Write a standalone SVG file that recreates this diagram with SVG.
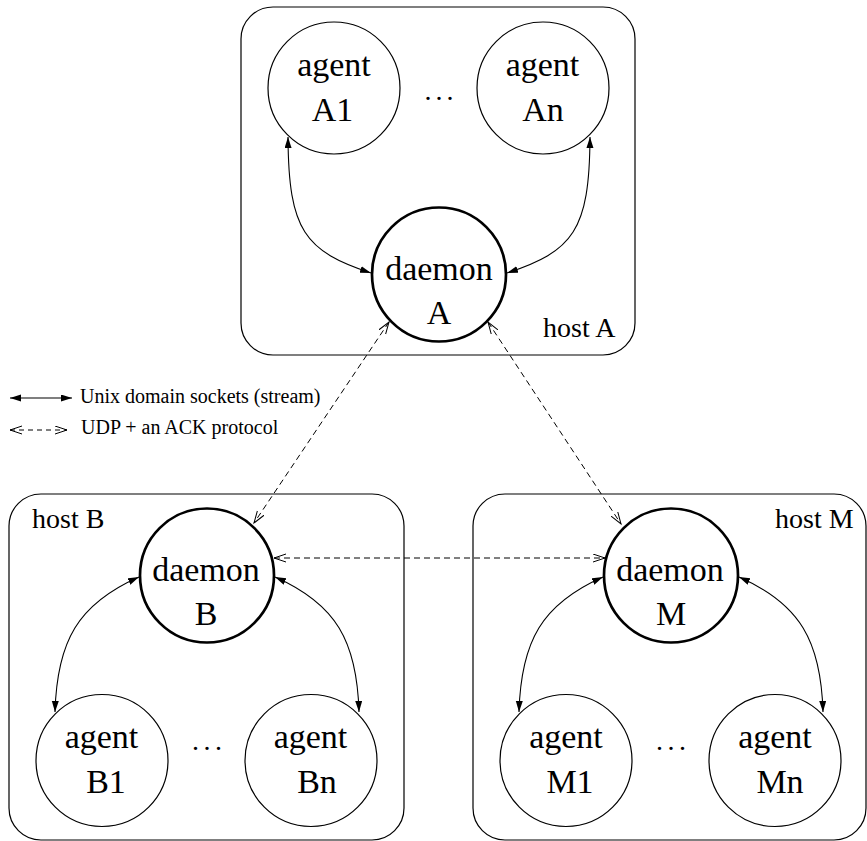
<svg xmlns="http://www.w3.org/2000/svg" width="867" height="841" viewBox="0 0 867 841">
<defs>
<style>
.host{fill:none;stroke:#000;stroke-width:1.2}
.agent{fill:#fff;stroke:#000;stroke-width:1.2}
.daemon{fill:#fff;stroke:#000;stroke-width:2.7}
.lbl{font-family:"Liberation Serif","Times New Roman",serif;font-size:34px;fill:#000;text-anchor:middle}
.hl{font-family:"Liberation Serif","Times New Roman",serif;font-size:28px;fill:#000}
.dots{font-family:"Liberation Serif","Times New Roman",serif;font-size:28px;fill:#000}
.leg{font-family:"Liberation Serif","Times New Roman",serif;font-size:20px;fill:#000}
.uds{fill:none;stroke:#000;stroke-width:1.1;marker-start:url(#fa);marker-end:url(#fa)}
.udp{fill:none;stroke:#000;stroke-width:1;stroke-dasharray:6 4;marker-start:url(#oa);marker-end:url(#oa)}
</style>
<marker id="fa" markerUnits="userSpaceOnUse" markerWidth="12" markerHeight="8" refX="11" refY="3.5" orient="auto-start-reverse" viewBox="0 0 12 8">
<path d="M0,0 L11,3.5 L0,7 z" fill="#000"/>
</marker>
<marker id="oa" markerUnits="userSpaceOnUse" markerWidth="14" markerHeight="10" refX="12" refY="4.5" orient="auto-start-reverse" viewBox="0 0 14 10">
<path d="M0,0.5 L12,4.5 L0,8.5" fill="none" stroke="#000" stroke-width="1"/>
</marker>
</defs>

<g id="hostA">
<rect class="host" x="241" y="7" width="394" height="348" rx="32" ry="32"/>
<text class="hl" x="543" y="337">host A</text>
<text class="dots" x="424.5 435.5 446.5" y="100">...</text>
</g>
<g id="hostB">
<rect class="host" x="9" y="494" width="395" height="346" rx="32" ry="32"/>
<text class="hl" x="32" y="528">host B</text>
<text class="dots" x="192 203.5 215" y="750">...</text>
</g>
<g id="hostM">
<rect class="host" x="473" y="494" width="393" height="346" rx="32" ry="32"/>
<text class="hl" x="775" y="528">host M</text>
<text class="dots" x="656 667.5 679" y="750">...</text>
</g>

<g id="connectors">
<path class="uds" d="M288,137 C288.5,231 305,251 371,273"/>
<path class="uds" d="M590,137 C589.5,231 573,251 507,273"/>
<path class="uds" d="M55,712 C57,641 78,604 139,577"/>
<path class="uds" d="M359,712 C357,641 336,604 275,577"/>
<path class="uds" d="M519,712 C521,641 542,604 603,577"/>
<path class="uds" d="M823,712 C821,641 800,604 739,577"/>
<path class="udp" d="M389,322 L254,523"/>
<path class="udp" d="M488,322 L621,524"/>
<path class="udp" d="M274,558 L605,558"/>
</g>

<g id="agentA1">
<circle class="agent" cx="334" cy="88" r="66"/>
<text class="lbl" x="334" y="76">agent</text>
<text class="lbl" x="332.5" y="121">A1</text>
</g>
<g id="agentAn">
<circle class="agent" cx="543" cy="88" r="66"/>
<text class="lbl" x="542.5" y="76">agent</text>
<text class="lbl" x="543" y="121">An</text>
</g>
<g id="daemonA">
<circle class="daemon" cx="439" cy="274.5" r="67"/>
<text class="lbl" x="439" y="280">daemon</text>
<text class="lbl" x="439" y="324">A</text>
</g>

<g id="daemonB">
<circle class="daemon" cx="207" cy="575.5" r="67"/>
<text class="lbl" x="206" y="581">daemon</text>
<text class="lbl" x="206" y="625">B</text>
</g>
<g id="agentB1">
<circle class="agent" cx="102" cy="760.5" r="66"/>
<text class="lbl" x="101.5" y="748">agent</text>
<text class="lbl" x="106" y="793">B1</text>
</g>
<g id="agentBn">
<circle class="agent" cx="311" cy="760.5" r="66"/>
<text class="lbl" x="310.5" y="748">agent</text>
<text class="lbl" x="317" y="793">Bn</text>
</g>

<g id="daemonM">
<circle class="daemon" cx="671" cy="575.5" r="67"/>
<text class="lbl" x="670" y="581">daemon</text>
<text class="lbl" x="671" y="625">M</text>
</g>
<g id="agentM1">
<circle class="agent" cx="566" cy="760.5" r="66"/>
<text class="lbl" x="566" y="748">agent</text>
<text class="lbl" x="570" y="793">M1</text>
</g>
<g id="agentMn">
<circle class="agent" cx="775" cy="760.5" r="66"/>
<text class="lbl" x="775" y="748">agent</text>
<text class="lbl" x="780" y="793">Mn</text>
</g>

<g id="legend">
<path class="uds" d="M10,398 L72,398"/>
<text class="leg" x="80" y="403">Unix domain sockets (stream)</text>
<path class="udp" d="M10,430 L67,430" style="stroke-dasharray:5 4"/>
<text class="leg" x="81" y="434">UDP + an ACK protocol</text>
</g>
</svg>
